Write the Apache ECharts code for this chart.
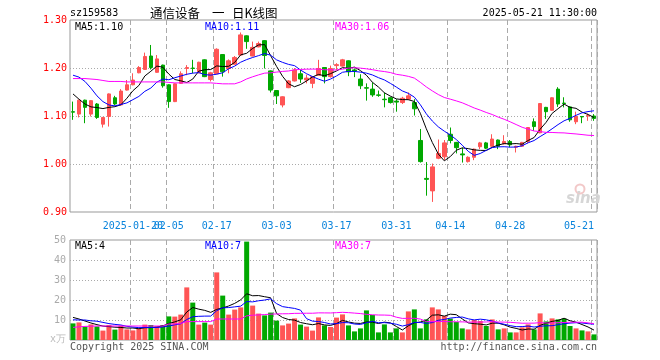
<!DOCTYPE html>
<html><head><meta charset="utf-8">
<script src="https://cdn.jsdelivr.net/npm/echarts@6/dist/echarts.min.js"></script>
<style>html,body{margin:0;padding:0;background:#fff}#c{width:660px;height:360px}</style>
</head><body><div id="c"></div>
<script>
const dates = [
'2025-01-06','2025-01-07','2025-01-08','2025-01-09','2025-01-10','2025-01-13','2025-01-14','2025-01-15','2025-01-16','2025-01-17',
'2025-01-20','2025-01-21','2025-01-22','2025-01-23','2025-01-24','2025-01-27','2025-02-05','2025-02-06','2025-02-07','2025-02-10',
'2025-02-11','2025-02-12','2025-02-13','2025-02-14','2025-02-17','2025-02-18','2025-02-19','2025-02-20','2025-02-21','2025-02-24',
'2025-02-25','2025-02-26','2025-02-27','2025-02-28','2025-03-03','2025-03-04','2025-03-05','2025-03-06','2025-03-07','2025-03-10',
'2025-03-11','2025-03-12','2025-03-13','2025-03-14','2025-03-17','2025-03-18','2025-03-19','2025-03-20','2025-03-21','2025-03-24',
'2025-03-25','2025-03-26','2025-03-27','2025-03-28','2025-03-31','2025-04-01','2025-04-02','2025-04-03','2025-04-07','2025-04-08',
'2025-04-09','2025-04-10','2025-04-11','2025-04-14','2025-04-15','2025-04-16','2025-04-17','2025-04-18','2025-04-21','2025-04-22',
'2025-04-23','2025-04-24','2025-04-25','2025-04-28','2025-04-29','2025-04-30','2025-05-06','2025-05-07','2025-05-08','2025-05-09',
'2025-05-12','2025-05-13','2025-05-14','2025-05-15','2025-05-16','2025-05-19','2025-05-20','2025-05-21'];

const opens = [
1.109,1.104,1.133,1.104,1.125,1.083,1.099,1.138,1.123,1.154,
1.165,1.190,1.197,1.225,1.191,1.206,1.165,1.130,1.168,1.199,
1.200,1.190,1.217,1.176,1.188,1.228,1.199,1.208,1.227,1.267,
1.225,1.244,1.257,1.194,1.153,1.123,1.159,1.173,1.188,1.175,
1.168,1.185,1.201,1.182,1.205,1.204,1.215,1.196,1.177,1.159,
1.156,1.144,1.135,1.138,1.131,1.128,1.135,1.128,1.049,0.970,
0.944,1.012,1.015,1.062,1.045,1.021,1.005,1.014,1.036,1.044,
1.037,1.050,1.042,1.047,1.035,1.037,1.047,1.088,1.065,1.118,
1.112,1.156,1.127,1.119,1.088,1.099,1.100,1.100];
const closes = [
1.108,1.133,1.118,1.132,1.097,1.097,1.146,1.125,1.152,1.165,
1.175,1.201,1.224,1.201,1.219,1.163,1.130,1.167,1.188,1.201,
1.199,1.212,1.182,1.190,1.239,1.192,1.215,1.222,1.269,1.255,
1.243,1.251,1.226,1.154,1.142,1.140,1.173,1.196,1.177,1.179,
1.182,1.199,1.182,1.199,1.207,1.217,1.192,1.194,1.163,1.158,
1.144,1.143,1.134,1.128,1.129,1.137,1.142,1.115,1.005,0.968,
0.994,1.022,1.044,1.049,1.034,1.019,1.014,1.031,1.044,1.033,
1.052,1.037,1.047,1.040,1.037,1.045,1.076,1.078,1.126,1.109,
1.138,1.125,1.126,1.092,1.099,1.098,1.101,1.095];
const lows = [
1.092,1.097,1.085,1.099,1.094,1.076,1.078,1.122,1.122,1.153,
1.164,1.189,1.196,1.197,1.190,1.159,1.117,1.129,1.167,1.185,
1.189,1.189,1.181,1.172,1.187,1.182,1.189,1.207,1.226,1.240,
1.224,1.243,1.199,1.149,1.125,1.118,1.158,1.172,1.169,1.168,
1.158,1.184,1.168,1.180,1.196,1.203,1.183,1.181,1.156,1.132,
1.140,1.140,1.118,1.126,1.109,1.125,1.133,1.101,1.003,0.934,
0.921,1.010,1.008,1.043,1.022,1.003,1.003,1.008,1.031,1.031,
1.036,1.031,1.041,1.035,1.024,1.036,1.043,1.069,1.064,1.094,
1.111,1.119,1.118,1.088,1.083,1.085,1.090,1.090];
const highs = [
1.130,1.134,1.134,1.133,1.127,1.098,1.147,1.142,1.156,1.175,
1.189,1.204,1.232,1.248,1.227,1.207,1.166,1.168,1.193,1.206,
1.217,1.213,1.218,1.192,1.241,1.229,1.218,1.225,1.274,1.268,
1.255,1.255,1.258,1.195,1.154,1.141,1.175,1.200,1.196,1.186,
1.183,1.217,1.202,1.205,1.210,1.219,1.216,1.199,1.187,1.168,
1.170,1.153,1.149,1.140,1.135,1.140,1.149,1.135,1.073,1.004,
1.001,1.051,1.050,1.076,1.046,1.034,1.016,1.032,1.046,1.046,
1.062,1.051,1.060,1.050,1.038,1.046,1.077,1.095,1.127,1.119,
1.139,1.160,1.139,1.120,1.109,1.100,1.105,1.104];
const volumes = [
8.3,8.8,6.7,7.8,6.8,4.7,7.5,5.2,7.2,5.3,
4.8,5.7,7.7,7.5,6.8,7.5,11.8,11.7,12.7,26.3,
18.7,7.7,8.7,7.7,33.8,22.2,12.7,15.2,16.3,49.2,
17.2,13.2,12.3,13.7,9.7,7.3,8.2,10.8,7.7,6.7,
4.7,11.3,7.3,6.5,11.2,12.8,7.3,4.3,5.8,14.8,
12.5,3.8,7.8,3.8,5.8,3.8,14.3,15.3,5.8,10.3,
16.3,15.3,12.0,10.7,9.0,5.8,5.3,10.0,9.5,7.0,
10.3,5.3,5.8,3.8,3.8,6.3,7.8,5.3,13.3,9.3,
10.8,10.3,10.7,7.0,5.8,4.8,4.3,2.8];

// moving-average values before enough visible days exist
const ma5Head = [1.146,1.135,1.125,1.119];
const ma10Head = [1.185,1.181,1.172,1.158,1.142,1.130,1.123,1.121,1.124];
const ma30Head = [1.178,1.178,1.178,1.177,1.176,1.174,1.172,1.172,1.172,1.171,
                  1.171,1.171,1.171,1.171,1.171,1.171,1.170,1.169,1.169,1.169,
                  1.169,1.169,1.169,1.169,1.168,1.167,1.167,1.167,1.171];
const vma5Head = [11.3,10.5,9.5,8.5];
const vma10Head = [10.1,10.0,10.0,9.6,9.4,8.8,8.2,7.8,7.5];
const vma30Head = [6.3,6.6,6.8,6.9,7.0,7.0,7.0,7.0,7.0,7.0,
                   7.0,7.0,7.0,7.0,7.0,7.0,8.0,8.0,8.3,9.2,
                   9.2,9.2,9.2,9.2,10.5,10.5,10.5,10.5,10.5];
const volMaLabels = [4, 7, 7];

const tickDates = ['2025-01-20','2025-02-05','2025-02-17','2025-03-03','2025-03-17','2025-03-31','2025-04-14','2025-04-28','2025-05-21'];
const tickLabels = ['2025-01-20','02-05','02-17','03-03','03-17','03-31','04-14','04-28','05-21'];
const priceTicks = [0.9, 1.3, 0.1];
const volTicks = [0, 50, 10];

function ma(vals, n, head) {
  return vals.map((v, i) => {
    if (i < head.length) return head[i];
    let s = 0;
    for (let k = i - n + 1; k <= i; k++) s += vals[k];
    return +(s / n).toFixed(4);
  });
}
const ma5 = ma(closes, 5, ma5Head), ma10 = ma(closes, 10, ma10Head), ma30 = ma(closes, 30, ma30Head);
const vma5 = ma(volumes, 5, vma5Head), vma10 = ma(volumes, 10, vma10Head), vma30 = ma(volumes, 30, vma30Head);

const tickIdx = tickDates.map(d => dates.indexOf(d));
const labelOf = {};
tickDates.forEach((d, k) => labelOf[d] = tickLabels[k]);
const isTick = (i) => tickIdx.indexOf(i) >= 0;

const UP = '#ff5555', DOWN = '#00a800';
const MONO = '"DejaVu Sans Mono", monospace';
const last = closes.length - 1;

const chart = echarts.init(document.getElementById('c'), null, {renderer: 'canvas'});
const gridBase = {left: 70, width: 527, show: true, borderColor: '#999', borderWidth: 1};
const vSplit = {show: true, interval: (i) => isTick(i), lineStyle: {color: '#aaa', width: 1, type: [5, 3]}};
const xLabelStyle = {color: '#0a84dc', fontFamily: MONO, fontSize: 10, margin: 9, hideOverlap: false,
                     formatter: (v) => labelOf[v] || ''};

function txt(x, y, text, fill, font, align) {
  return {type: 'text', x: x, y: y, silent: true, z: 100,
    style: {text: text, fill: fill, font: font, textAlign: align || 'left', textVerticalAlign: 'middle'}};
}

chart.setOption({
  animation: false,
  backgroundColor: '#fff',
  textStyle: {fontFamily: MONO},
  grid: [
    Object.assign({top: 20, height: 192}, gridBase),
    Object.assign({top: 240, height: 100}, gridBase)
  ],
  xAxis: [
    {type: 'category', gridIndex: 0, data: dates, boundaryGap: true, position: 'bottom',
     axisLine: {show: false}, axisTick: {show: false},
     axisLabel: Object.assign({interval: (i) => isTick(i) && i !== tickIdx[0], alignMaxLabel: 'right'}, xLabelStyle),
     splitLine: vSplit},
    {type: 'category', gridIndex: 1, data: dates, boundaryGap: true,
     axisLine: {show: false}, axisTick: {show: false}, axisLabel: {show: false},
     splitLine: vSplit},
    {type: 'category', gridIndex: 0, data: dates, boundaryGap: true, position: 'bottom', offset: 0,
     axisLine: {show: false}, axisTick: {show: false}, splitLine: {show: false},
     axisLabel: Object.assign({interval: (i) => i === tickIdx[0]}, xLabelStyle)}
  ],
  yAxis: [
    {type: 'value', gridIndex: 0, min: priceTicks[0], max: priceTicks[1], interval: priceTicks[2],
     axisLine: {show: false}, axisTick: {show: false},
     axisLabel: {color: '#ff0000', fontFamily: MONO, fontSize: 10, margin: 3, formatter: (v) => v.toFixed(2)},
     splitLine: {show: true, showMinLine: false, showMaxLine: false, lineStyle: {color: '#aaa', width: 1, type: [1, 2]}}},
    {type: 'value', gridIndex: 1, min: volTicks[0], max: volTicks[1], interval: volTicks[2],
     axisLine: {show: false}, axisTick: {show: false},
     axisLabel: {color: '#aaa', fontFamily: MONO, fontSize: 10, margin: 4, formatter: (v) => v === 0 ? '' : String(v)},
     splitLine: {show: true, showMinLine: false, showMaxLine: false, lineStyle: {color: '#aaa', width: 1, type: [1, 2]}}}
  ],
  series: [
    {type: 'candlestick', xAxisIndex: 0, yAxisIndex: 0, barWidth: 4,
     data: dates.map((d, i) => [opens[i], closes[i], lows[i], highs[i]]),
     itemStyle: {color: UP, color0: DOWN, borderColor: UP, borderColor0: DOWN, borderWidth: 1}},
    {type: 'line', xAxisIndex: 0, yAxisIndex: 0, data: ma5, symbol: 'none', lineStyle: {color: '#000', width: 1}},
    {type: 'line', xAxisIndex: 0, yAxisIndex: 0, data: ma10, symbol: 'none', lineStyle: {color: '#0000ff', width: 1}},
    {type: 'line', xAxisIndex: 0, yAxisIndex: 0, data: ma30, symbol: 'none', lineStyle: {color: '#ff00ff', width: 1}},
    {type: 'bar', xAxisIndex: 1, yAxisIndex: 1, barWidth: 5,
     data: volumes.map((v, i) => ({value: v, itemStyle: {color: closes[i] >= opens[i] ? UP : DOWN}}))},
    {type: 'line', xAxisIndex: 1, yAxisIndex: 1, data: vma5, symbol: 'none', lineStyle: {color: '#000', width: 1}},
    {type: 'line', xAxisIndex: 1, yAxisIndex: 1, data: vma10, symbol: 'none', lineStyle: {color: '#0000ff', width: 1}},
    {type: 'line', xAxisIndex: 1, yAxisIndex: 1, data: vma30, symbol: 'none', lineStyle: {color: '#ff00ff', width: 1}}
  ],
  graphic: [
    txt(70, 13, 'sz159583', '#000', '10px ' + MONO),
    txt(150, 13, '通信设备', '#000', '12.5px "Noto Sans CJK SC"'),
    txt(212, 13, '一', '#000', '12.5px "Noto Sans CJK SC"'),
    txt(232, 13, '日K线图', '#000', '12.5px "Noto Sans CJK SC"'),
    txt(597, 13, '2025-05-21 11:30:00', '#000', '10px ' + MONO, 'right'),
    txt(75, 27, 'MA5:' + ma5[last].toFixed(2), '#000', '10px ' + MONO),
    txt(205, 27, 'MA10:' + ma10[last].toFixed(2), '#0000ff', '10px ' + MONO),
    txt(335, 27, 'MA30:' + ma30[last].toFixed(2), '#ff00ff', '10px ' + MONO),
    txt(75, 246, 'MA5:' + volMaLabels[0], '#000', '10px ' + MONO),
    txt(205, 246, 'MA10:' + volMaLabels[1], '#0000ff', '10px ' + MONO),
    txt(335, 246, 'MA30:' + volMaLabels[2], '#ff00ff', '10px ' + MONO),
    txt(66, 339, 'x万', '#bbb', '10px ' + MONO, 'right'),
    txt(70, 347, 'Copyright 2025 SINA.COM', '#555', '10px ' + MONO),
    txt(597, 347, 'http://finance.sina.com.cn', '#555', '10px ' + MONO, 'right'),
    {type: 'circle', silent: true, z: 1, shape: {cx: 580, cy: 189, r: 4.5},
     style: {fill: 'none', stroke: '#f2c8c8', lineWidth: 2}},
    txt(566, 199, 'sina', '#d6d6d6', 'italic bold 15px "DejaVu Sans"')
  ]
});
</script></body></html>
